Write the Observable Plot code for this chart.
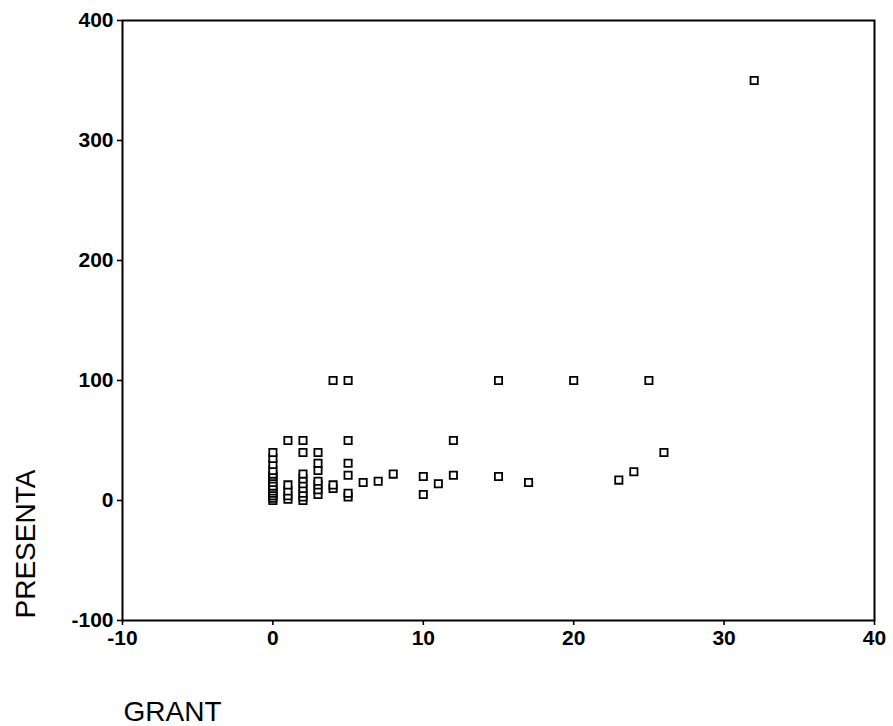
<!DOCTYPE html>
<html>
<head>
<meta charset="utf-8">
<script src="https://cdn.jsdelivr.net/npm/d3@7"></script>
<script src="https://cdn.jsdelivr.net/npm/@observablehq/plot@0.6"></script>
<style>
  html, body { margin: 0; padding: 0; background: white; }
  .ticklbl text { font-weight: bold; }
</style>
</head>
<body>
<div id="chart"></div>
<script>
const grant = [
  0,0,0,0,0,0,0,0,0,0,0,0,0,0,0,
  1,1,1,1,1,
  2,2,2,2,2,2,2,2,2,
  3,3,3,3,3,3,3,
  4,4,4,
  5,5,5,5,5,5,
  6,7,8,10,10,11,12,12,15,15,17,20,23,24,25,26,32
];
const presenta = [
  0,2,4,6,8,10,12,15,18,20,22,25,30,35,40,
  1,4,8,13,50,
  0,3,6,10,14,18,22,40,50,
  5,9,13,16,25,31,40,
  10,13,100,
  3,6,21,31,50,100,
  15,16,22,20,5,14,50,21,100,20,15,100,17,24,100,40,350
];
const xTicks = [-10, 0, 10, 20, 30, 40];
const yTicks = [-100, 0, 100, 200, 300, 400];
const xLabel = "GRANT";
const yLabel = "PRESENTA";

const data = grant.map((g, i) => ({grant: g, presenta: presenta[i]}));
const fmt = d => String(d);

const chart = Plot.plot({
  width: 893,
  height: 726,
  marginLeft: 122,
  marginRight: 19,
  marginTop: 20,
  marginBottom: 106,
  x: {domain: [-10, 40]},
  y: {domain: [-100, 400]},
  style: {fontFamily: "'Liberation Sans', Arial, sans-serif", fontSize: "21px", color: "black", background: "white"},
  marks: [
    Plot.frame({stroke: "black", strokeWidth: 2}),
    Plot.axisX({ticks: xTicks, tickFormat: fmt, tickSize: 5, tickPadding: 5, label: null, fontSize: 21, strokeWidth: 1.6, className: "ticklbl"}),
    Plot.axisY({ticks: yTicks, tickFormat: fmt, tickSize: 5, tickPadding: 4, label: null, fontSize: 21, strokeWidth: 1.6, className: "ticklbl"}),
    Plot.dot(data, {x: "grant", y: "presenta", symbol: "square", r: 4.1, stroke: "black", strokeWidth: 1.8, fill: "white"}),
    Plot.text([xLabel], {frameAnchor: "bottom-left", text: d => d, textAnchor: "start", lineAnchor: "bottom", dx: 1, dy: 100, fontSize: 28}),
    Plot.text([yLabel], {frameAnchor: "bottom-left", text: d => d, textAnchor: "start", lineAnchor: "bottom", rotate: -90, dx: -88, dy: -2, fontSize: 28})
  ]
});
document.getElementById("chart").appendChild(chart);
</script>
</body>
</html>
